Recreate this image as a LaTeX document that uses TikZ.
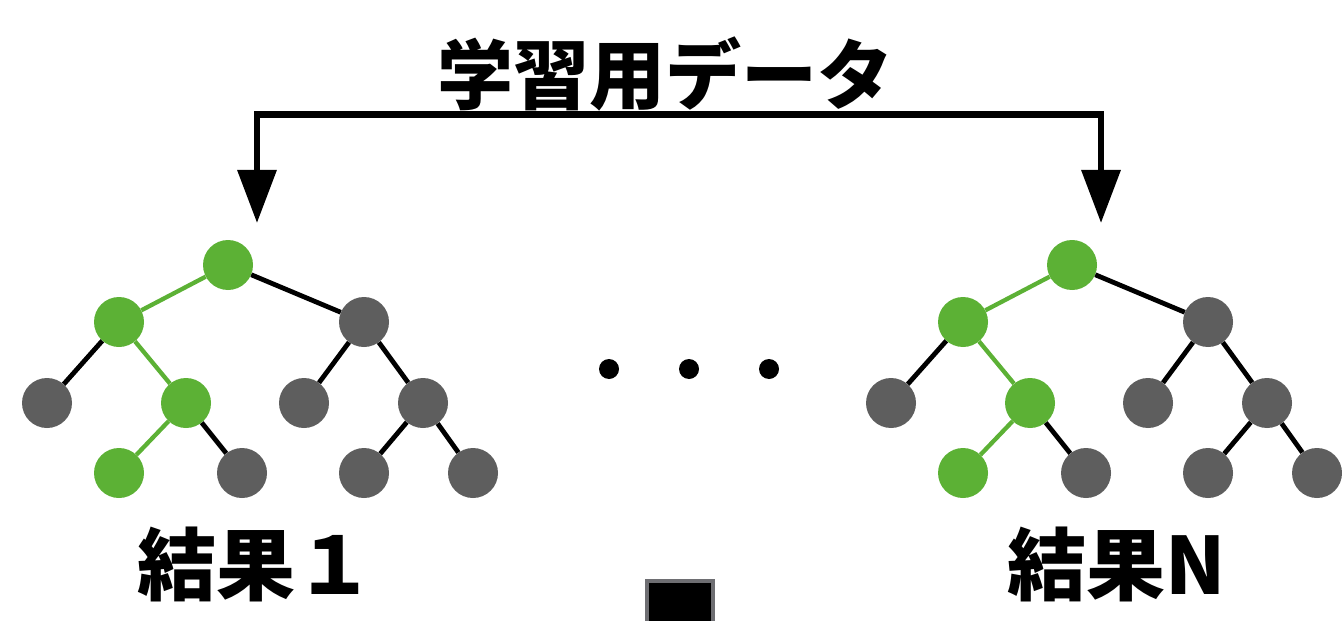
\documentclass[tikz,border=0pt]{standalone}
\usepackage{fontspec}
\newfontfamily\cjk{Noto Sans CJK JP}
\usetikzlibrary{arrows.meta}
\definecolor{leafgreen}{HTML}{5CB135}
\definecolor{nodegray}{HTML}{5E5E5E}
\definecolor{boxgray}{HTML}{6E6E72}
\tikzset{
  gnode/.style={circle,fill=leafgreen,minimum size=50bp,inner sep=0pt},
  knode/.style={circle,fill=nodegray,minimum size=50bp,inner sep=0pt},
  gedge/.style={draw=leafgreen,line width=4.3bp},
  kedge/.style={draw=black,line width=4.8bp},
  dotnode/.style={circle,fill=black,minimum size=20bp,inner sep=0pt},
  bigtext/.style={font=\cjk\bfseries\fontsize{76bp}{80bp}\selectfont,inner sep=0pt},
  labtext/.style={font=\cjk\bfseries\fontsize{79bp}{84bp}\selectfont,inner sep=0pt},
  arrowline/.style={line width=6.5bp,{Triangle[width=38bp,length=53bp]}-{Triangle[width=38bp,length=53bp]}},
}
\newcommand\mytree[2]{%
  \begin{scope}[xshift=#2bp]
    \node[gnode] (#1r) at (228,265) {};
    \node[gnode] (#1a) at (119,322) {};
    \node[knode] (#1b) at (364,322) {};
    \node[knode] (#1c) at (47,403) {};
    \node[gnode] (#1d) at (186,403) {};
    \node[knode] (#1e) at (304,403) {};
    \node[knode] (#1f) at (423,403) {};
    \node[gnode] (#1g) at (119,473) {};
    \node[knode] (#1h) at (242,473) {};
    \node[knode] (#1i) at (364,473) {};
    \node[knode] (#1j) at (473,473) {};
    \path[gedge] (#1r) -- (#1a);
    \path[kedge] (#1r) -- (#1b);
    \path[kedge] (#1a) -- (#1c);
    \path[gedge] (#1a) -- (#1d);
    \path[kedge] (#1b) -- (#1e);
    \path[kedge] (#1b) -- (#1f);
    \path[gedge] (#1d) -- (#1g);
    \path[kedge] (#1d) -- (#1h);
    \path[kedge] (#1f) -- (#1i);
    \path[kedge] (#1f) -- (#1j);
  \end{scope}}
\begin{document}
\begin{tikzpicture}[x=1bp,y=-1bp]
  \useasboundingbox (0,0) rectangle (1342,621);
  \mytree{L}{0}
  \mytree{R}{844}
  % title and arrows
  \node[bigtext,anchor=base] (title) at (665,104) {学習用データ};
  \coordinate (tipL) at (257,223);
  \coordinate (tipR) at (1101,223);
  \coordinate (top) at (679,114.5);
  \draw[arrowline] (tipL) |- (top) -| (tipR);
  % dots
  \node[dotnode] (d1) at (609,369) {};
  \node[dotnode] (d2) at (689,369) {};
  \node[dotnode] (d3) at (769,369) {};
  % labels
  \node[labtext,anchor=base] (res1) at (256,594) {結果１};
  \node[labtext,anchor=base west] (resN) at (1007,594) {結果N};
  % square at bottom
  \node[draw=boxgray,fill=black,line width=4bp,minimum width=66bp,minimum height=70bp,inner sep=0pt,anchor=north] (sq) at (680,579) {};
\end{tikzpicture}
\end{document}
